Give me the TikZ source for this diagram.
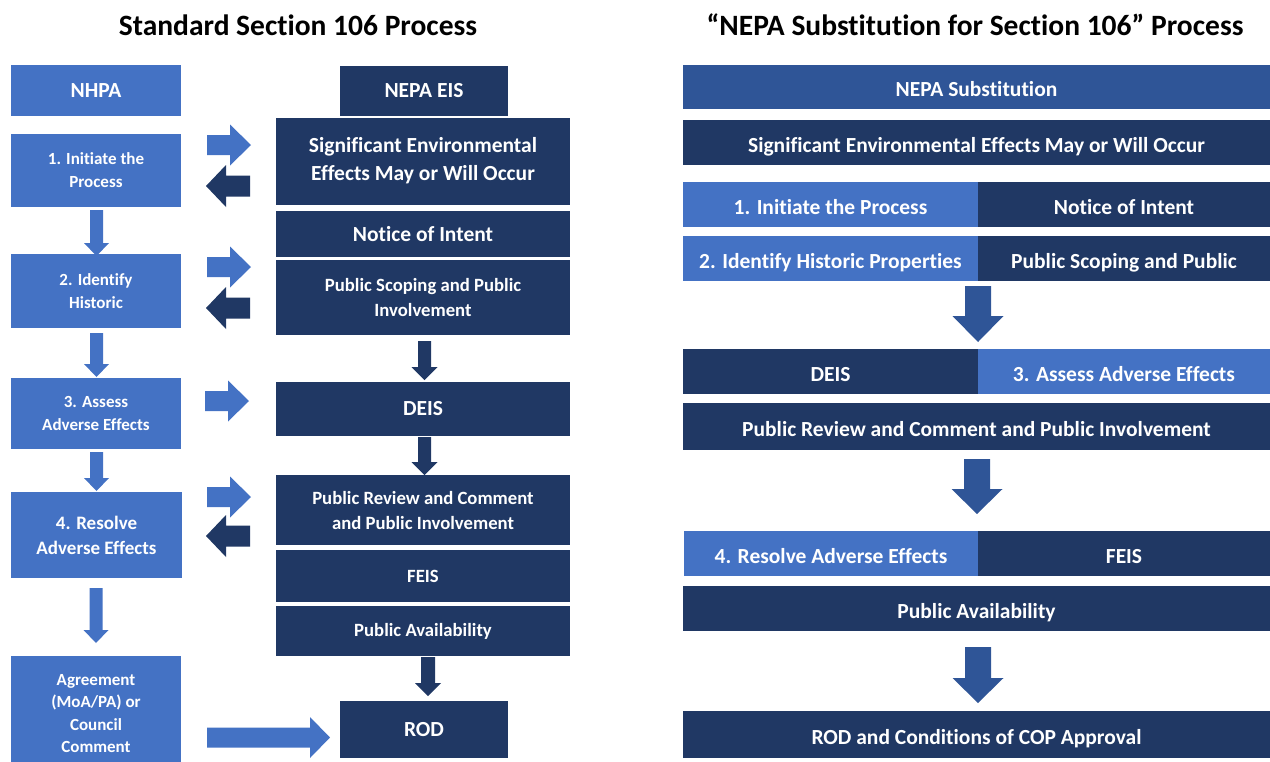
\documentclass[tikz,border=0pt]{standalone}
\usepackage{fontspec}
\setmainfont{Carlito}[Ligatures=CommonOff]
\usepackage{tikz}
\usetikzlibrary{positioning}
\definecolor{nhpablue}{RGB}{68,114,196}
\definecolor{nepanavy}{RGB}{32,56,100}
\definecolor{subblue}{RGB}{47,85,151}

% block arrows: centre, from, to, shaft half, head half, head length, colour
\newcommand{\downblock}[7]{\fill[#7] (#1-#4,#2) -- (#1+#4,#2) -- (#1+#4,#3-#6) -- (#1+#5,#3-#6) -- (#1,#3) -- (#1-#5,#3-#6) -- (#1-#4,#3-#6) -- cycle;}
\newcommand{\rightblock}[7]{\fill[#7] (#2,#1-#4) -- (#3-#6,#1-#4) -- (#3-#6,#1-#5) -- (#3,#1) -- (#3-#6,#1+#5) -- (#3-#6,#1+#4) -- (#2,#1+#4) -- cycle;}
\newcommand{\leftblock}[7]{\fill[#7] (#3,#1-#4) -- (#2+#6,#1-#4) -- (#2+#6,#1-#5) -- (#2,#1) -- (#2+#6,#1+#5) -- (#2+#6,#1+#4) -- (#3,#1+#4) -- cycle;}

\begin{document}
\begin{tikzpicture}[
    x=1pt, y=-1pt,
    title/.style={font=\fontsize{29.5}{34}\selectfont\bfseries},
    nhpa/.style={rectangle, fill=nhpablue, text=white, align=center, inner sep=2pt,
                 font=\fontsize{17}{23}\selectfont\bfseries},
    nepa/.style={rectangle, fill=nepanavy, text=white, align=center, inner sep=2pt,
                 font=\fontsize{18.7}{25}\selectfont\bfseries},
    big/.style={font=\fontsize{21.5}{28}\selectfont\bfseries},
    subst/.style={rectangle, fill=subblue, text=white, align=center, inner sep=2pt,
                  text height=19.5pt, text depth=0pt,
                  font=\fontsize{21.5}{26}\selectfont\bfseries}
]
\useasboundingbox (0,0) rectangle (1270,761);

% Titles
\node[title] (ltitle) at (298,25) {Standard Section 106 Process};
\node[title] (rtitle) at (975,25) {``NEPA Substitution for Section 106'' Process};

% NHPA column
\node[nhpa, big, minimum width=170pt, minimum height=51pt] (nhpa) at (96,90.5) {NHPA};
\node[nhpa, minimum width=170pt, minimum height=73pt] (init) at (96,170.5) {1. Initiate the\\Process};
\node[nhpa, minimum width=170pt, minimum height=74pt] (ident) at (96,291) {2. Identify\\Historic};
\node[nhpa, minimum width=170pt, minimum height=71pt] (assess) at (96,413.5) {3. Assess\\Adverse Effects};
\node[nhpa, minimum width=171pt, minimum height=86pt, font=\fontsize{19}{25}\selectfont\bfseries] (resolve) at (96.5,535) {4. Resolve\\Adverse Effects};
% runs off the bottom edge
\node[nhpa, minimum width=170pt, minimum height=115pt, font=\fontsize{17}{22.5}\selectfont\bfseries] (agree) at (96,713.5) {Agreement\\(MoA/PA) or\\Council\\Comment};

% NEPA EIS column
\node[nepa, big, minimum width=168pt, minimum height=50pt] (neis) at (424,91) {NEPA EIS};
\node[nepa, big, minimum width=294pt, minimum height=87pt] (sig) at (423,161) {Significant Environmental\\Effects May or Will Occur};
\node[nepa, big, minimum width=294pt, minimum height=46pt] (noi) at (423,234) {Notice of Intent};
\node[nepa, minimum width=294pt, minimum height=75pt] (scop) at (423,297.5) {Public Scoping and Public\\Involvement};
\node[nepa, big, minimum width=294pt, minimum height=54pt] (deis) at (423,409) {DEIS};
\node[nepa, minimum width=294pt, minimum height=70pt] (prev) at (423,510) {Public Review and Comment\\and Public Involvement};
\node[nepa, minimum width=294pt, minimum height=52pt] (feis) at (423,576) {FEIS};
\node[nepa, minimum width=294pt, minimum height=50pt] (pav) at (423,631) {Public Availability};
\node[nepa, big, minimum width=168pt, minimum height=57pt] (rod) at (424,729.5) {ROD};

% Substitution column
\node[subst, minimum width=587pt, minimum height=44pt] (nsub) at (976.5,87) {NEPA Substitution};
\node[subst, fill=nepanavy, minimum width=587pt, minimum height=45pt] (rsig) at (976.5,142.5) {Significant Environmental Effects May or Will Occur};
\node[subst, fill=nhpablue, minimum width=295pt, minimum height=45pt] (rinit) at (830.5,204.5) {1. Initiate the Process};
\node[subst, fill=nepanavy, minimum width=292pt, minimum height=45pt] (rnoi) at (1124,204.5) {Notice of Intent};
\node[subst, fill=nhpablue, minimum width=295pt, minimum height=45pt] (rident) at (830.5,258.5) {2. Identify Historic Properties};
\node[subst, fill=nepanavy, minimum width=292pt, minimum height=45pt] (rscop) at (1124,258.5) {Public Scoping and Public};
\node[subst, fill=nepanavy, minimum width=295pt, minimum height=45pt] (rdeis) at (830.5,371.5) {DEIS};
\node[subst, fill=nhpablue, minimum width=292pt, minimum height=45pt] (rassess) at (1124,371.5) {3. Assess Adverse Effects};
\node[subst, fill=nepanavy, minimum width=587pt, minimum height=47pt] (rrev) at (976.5,426.5) {Public Review and Comment and Public Involvement};
\node[subst, fill=nhpablue, minimum width=294pt, minimum height=45pt] (rresolve) at (831,553.5) {4. Resolve Adverse Effects};
\node[subst, fill=nepanavy, minimum width=292pt, minimum height=45pt] (rfeis) at (1124,553.5) {FEIS};
\node[subst, fill=nepanavy, minimum width=587pt, minimum height=45pt] (rpav) at (976.5,608.5) {Public Availability};
\node[subst, fill=nepanavy, minimum width=587pt, minimum height=47pt] (rrod) at (976.5,734.5) {ROD and Conditions of COP Approval};

% Down arrows, NHPA side
\downblock{96.5}{210}{256}{6.5}{12.5}{13}{nhpablue}
\downblock{96.5}{333}{377}{6.5}{12.5}{13}{nhpablue}
\downblock{96.5}{452}{491}{6.5}{12.5}{13}{nhpablue}
\downblock{96}{588}{643}{6.5}{12.5}{13}{nhpablue}

% Down arrows, NEPA side
\downblock{424.5}{341}{380}{6.5}{13}{13}{nepanavy}
\downblock{424.5}{437}{475}{6.5}{13}{13}{nepanavy}
\downblock{428}{657}{696}{7}{13}{13}{nepanavy}

% Side arrows
\rightblock{145}{207}{251}{10}{20.5}{21}{nhpablue}
\leftblock{186}{206}{250}{10.5}{21}{20}{nepanavy}
\rightblock{267}{207}{251}{10}{20.5}{21}{nhpablue}
\leftblock{308}{206}{250}{10.5}{21}{20}{nepanavy}
\rightblock{401}{205}{249}{10}{20.5}{21}{nhpablue}
\rightblock{497}{207}{251}{10}{20.5}{21}{nhpablue}
\leftblock{536}{206}{250}{10.5}{21}{20}{nepanavy}
\rightblock{737.5}{207}{330}{10}{20.5}{20}{nhpablue}

% Down arrows, substitution side
\downblock{978}{286}{342}{13}{25.5}{26}{subblue}
\downblock{977}{459}{514}{13}{25.5}{25}{subblue}
\downblock{978}{647}{703}{13}{25.5}{25}{subblue}

\end{tikzpicture}
\end{document}
